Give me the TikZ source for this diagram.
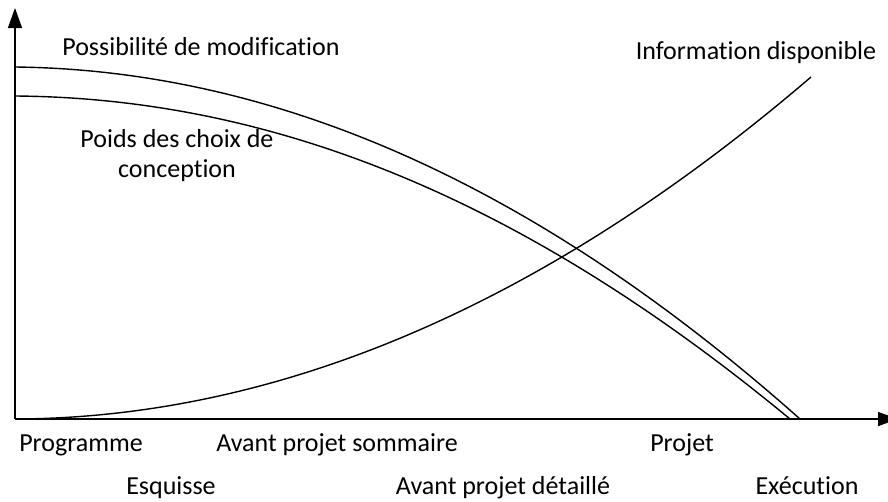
\documentclass[tikz,border=0pt]{standalone}
\usepackage{fontspec}
\setmainfont{Carlito}[Ligatures=NoCommon]
\usetikzlibrary{arrows.meta}

\begin{document}
\begin{tikzpicture}[x=1pt,y=-1pt,
        axe/.style={line width=1.4pt,-{Triangle[length=20pt,width=14pt]}}, % axes with filled tips
        courbe/.style={line width=1.4pt}, % the three curves
        etiquette/.style={anchor=base,inner sep=0pt,font=\fontsize{26}{30}\selectfont}
    ]
    \useasboundingbox (0,0) rectangle (888,501);
    % axes
    \coordinate (O) at (15,419);
    \coordinate (ytop) at (15,8);
    \coordinate (xend) at (898,419);
    \draw[axe] (O) -- (ytop);
    \draw[axe] (O) -- (xend);
    % curves
    \coordinate (modA) at (15,67);
    \coordinate (modB) at (800,419);
    \coordinate (poidsA) at (15,96);
    \coordinate (poidsB) at (790,419);
    \coordinate (infoB) at (811,77);
    \draw[courbe] (modA) .. controls (280,70) and (540,188) .. (modB);
    \draw[courbe] (poidsA) .. controls (275,98) and (525,200) .. (poidsB);
    \draw[courbe] (O) .. controls (280,418) and (546,304) .. (infoB);
    % labels of the curves
    \node[etiquette] (modif) at (201,55) {Possibilité de modification};
    \node[etiquette,anchor=center,align=center] (poids) at (177,156) {Poids des choix de\\conception};
    \node[etiquette] (info) at (756,59) {Information disponible};
    % phases
    \node[etiquette] (prog) at (81,451) {Programme};
    \node[etiquette] (aps) at (337,451) {Avant projet sommaire};
    \node[etiquette] (projet) at (682,451) {Projet};
    \node[etiquette] (esq) at (171,494) {Esquisse};
    \node[etiquette] (apd) at (503,494) {Avant projet détaillé};
    \node[etiquette] (exe) at (807,494) {Exécution};
\end{tikzpicture}
\end{document}
